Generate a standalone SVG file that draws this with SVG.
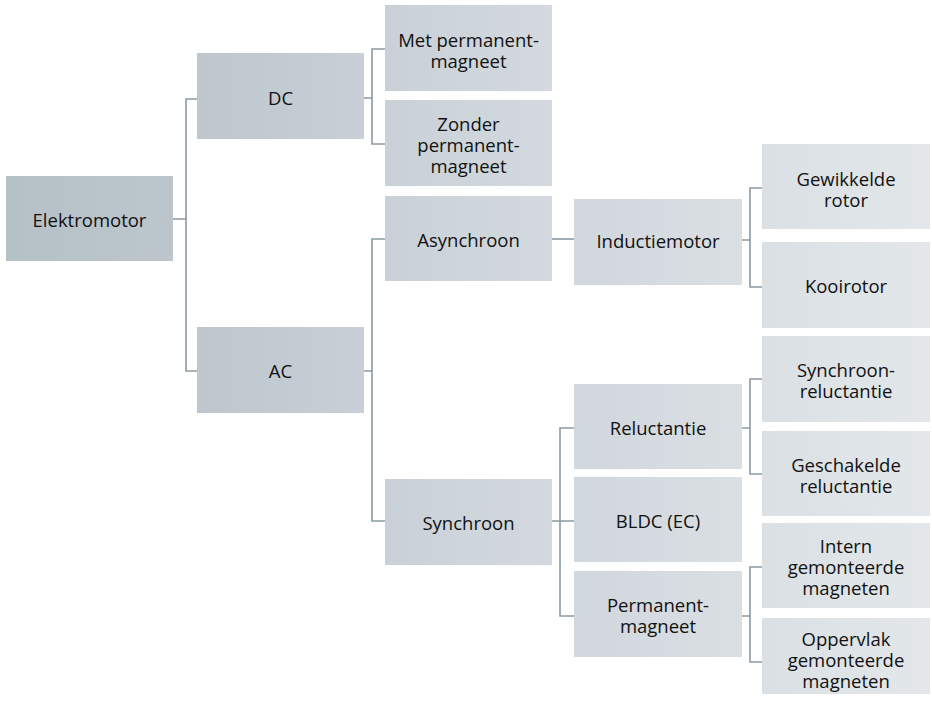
<svg xmlns="http://www.w3.org/2000/svg" width="932" height="701" viewBox="0 0 932 701">
<style>
  text { font-family: "Open Sans", "Noto Sans", "Liberation Sans", sans-serif; font-size: 18.5px; fill: #111; text-anchor: middle; }
  .c { fill: none; stroke: #8b99a3; stroke-width: 1.6; }
</style>
<defs>
  <linearGradient id="g1" x1="0" x2="1" y1="0" y2="0"><stop offset="0" stop-color="#b5c0c7"/><stop offset="1" stop-color="#bdc6cd"/></linearGradient>
  <linearGradient id="g2" x1="0" x2="1" y1="0" y2="0"><stop offset="0" stop-color="#bec7ce"/><stop offset="1" stop-color="#c8cfd6"/></linearGradient>
  <linearGradient id="g3" x1="0" x2="1" y1="0" y2="0"><stop offset="0" stop-color="#c9d1d8"/><stop offset="1" stop-color="#d3d9de"/></linearGradient>
  <linearGradient id="g4" x1="0" x2="1" y1="0" y2="0"><stop offset="0" stop-color="#d0d7dd"/><stop offset="1" stop-color="#dadfe3"/></linearGradient>
  <linearGradient id="g5" x1="0" x2="1" y1="0" y2="0"><stop offset="0" stop-color="#dae0e4"/><stop offset="1" stop-color="#e3e7ea"/></linearGradient>
</defs>
<g id="connectors">
  <path class="c" d="M173 219H186M197 99H186V371H197"/>
  <path class="c" d="M364 98H372M385 49H372V144H385"/>
  <path class="c" d="M364 371H372M385 239H372V521H385"/>
  <path class="c" d="M552 239H574"/>
  <path class="c" d="M552 521H574M574 428H560V616H574"/>
  <path class="c" d="M742 240H750M762 188H750V287H762"/>
  <path class="c" d="M742 428H750M762 379H750V474H762"/>
  <path class="c" d="M742 616H750M762 567H750V662H762"/>
</g>
<g id="elektromotor"><rect x="6" y="176" width="167" height="85" fill="url(#g1)"/><text x="89.5" y="227">Elektromotor</text></g>
<g id="dc"><rect x="197" y="53" width="167" height="86" fill="url(#g2)"/><text x="280.5" y="105">DC</text></g>
<g id="ac"><rect x="197" y="327" width="167" height="86" fill="url(#g2)"/><text x="280.5" y="378">AC</text></g>
<g id="met-pm"><rect x="385" y="5" width="167" height="86" fill="url(#g3)"/><text x="468.5" y="47">Met permanent-</text><text x="468.5" y="68">magneet</text></g>
<g id="zonder-pm"><rect x="385" y="100" width="167" height="86" fill="url(#g3)"/><text x="468.5" y="131">Zonder</text><text x="468.5" y="152">permanent-</text><text x="468.5" y="173">magneet</text></g>
<g id="asynchroon"><rect x="385" y="196" width="167" height="85" fill="url(#g3)"/><text x="468.5" y="247">Asynchroon</text></g>
<g id="synchroon"><rect x="385" y="479" width="167" height="86" fill="url(#g3)"/><text x="468.5" y="530">Synchroon</text></g>
<g id="inductiemotor"><rect x="574" y="199" width="168" height="86" fill="url(#g4)"/><text x="658" y="248">Inductiemotor</text></g>
<g id="reluctantie"><rect x="574" y="384" width="168" height="85" fill="url(#g4)"/><text x="658" y="435">Reluctantie</text></g>
<g id="bldc"><rect x="574" y="477" width="168" height="85" fill="url(#g4)"/><text x="658" y="528">BLDC (EC)</text></g>
<g id="permanentmagneet"><rect x="574" y="571" width="168" height="86" fill="url(#g4)"/><text x="658" y="612">Permanent-</text><text x="658" y="633">magneet</text></g>
<g id="gewikkelde-rotor"><rect x="762" y="144" width="168" height="85" fill="url(#g5)"/><text x="846" y="186">Gewikkelde</text><text x="846" y="207">rotor</text></g>
<g id="kooirotor"><rect x="762" y="242" width="168" height="86" fill="url(#g5)"/><text x="846" y="293">Kooirotor</text></g>
<g id="synchroon-reluctantie"><rect x="762" y="336" width="168" height="86" fill="url(#g5)"/><text x="846" y="377">Synchroon-</text><text x="846" y="398">reluctantie</text></g>
<g id="geschakelde-reluctantie"><rect x="762" y="431" width="168" height="85" fill="url(#g5)"/><text x="846" y="472">Geschakelde</text><text x="846" y="493">reluctantie</text></g>
<g id="intern"><rect x="762" y="523" width="168" height="85" fill="url(#g5)"/><text x="846" y="553">Intern</text><text x="846" y="574">gemonteerde</text><text x="846" y="595">magneten</text></g>
<g id="oppervlak"><rect x="762" y="618" width="168" height="76" fill="url(#g5)"/><text x="846" y="646">Oppervlak</text><text x="846" y="667">gemonteerde</text><text x="846" y="688">magneten</text></g>
</svg>
